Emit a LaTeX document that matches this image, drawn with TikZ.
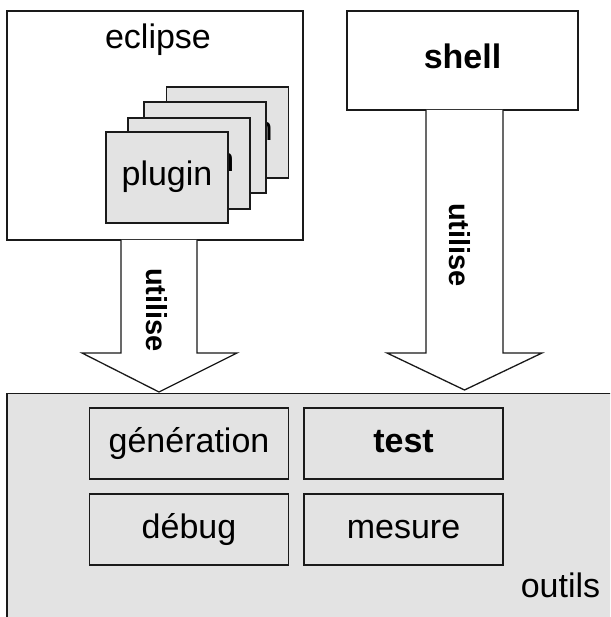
\documentclass[tikz,border=0pt]{standalone}
\usepackage{fontspec}
\setmainfont{Liberation Sans}
\definecolor{boxgray}{HTML}{E3E3E3}
\definecolor{linecol}{HTML}{1A1A1A}
\tikzset{
  bigtxt/.style={font=\fontsize{34}{40}\selectfont, inner sep=0pt},
  fixtext/.style={text height=24pt, text depth=7pt},
  whitebox/.style={draw=linecol, line width=1.8pt, fill=white, inner sep=0pt},
  card/.style={draw=linecol, line width=1.8pt, fill=boxgray, minimum width=122pt, minimum height=91pt, inner sep=0pt, fixtext, font=\fontsize{34}{40}\selectfont},
  toolbox/.style={draw=linecol, line width=1.8pt, fill=boxgray, minimum width=199pt, minimum height=71pt, inner sep=0pt, fixtext, font=\fontsize{34}{40}\selectfont},
  blockarrow/.style={draw=linecol, line width=1.3pt, fill=white, line join=miter},
  arrowtxt/.style={font=\bfseries\fontsize{29}{34}\selectfont, rotate=-90, inner sep=0pt}
}
\begin{document}
\begin{tikzpicture}[x=1pt,y=-1pt]
\useasboundingbox (0,0) rectangle (610,617);
\clip (0,0) rectangle (610,617);
\fill[white] (0,0) rectangle (610,617);

% outils container
\node[draw=linecol, line width=1.8pt, fill=boxgray, minimum width=620pt, minimum height=250pt, inner sep=0pt, anchor=north west] (outils) at (6,392.5) {};
\node[bigtxt, anchor=base] (outilslbl) at (560.5,597) {outils};

% inner tool boxes
\node[toolbox] (gen) at (189,443.5) {génération};
\node[toolbox, font=\bfseries\fontsize{34}{40}\selectfont] (test) at (403.5,443.5) {test};
\node[toolbox] (debug) at (189,529.5) {débug};
\node[toolbox] (mesure) at (403.5,529.5) {mesure};

% eclipse box
\node[whitebox, minimum width=296pt, minimum height=229pt] (eclipse) at (155,125.5) {};
\node[bigtxt, anchor=base] (eclipselbl) at (158,49) {eclipse};

% plugin cards (back to front)
\node[card] (p4) at (227.5,132.5) {plugin};
\node[card] (p3) at (205,147.5) {plugin};
\node[card] (p2) at (189,163.5) {plugin};
\node[card] (p1) at (167,177.5) {plugin};

% shell box
\node[whitebox, minimum width=231pt, minimum height=99pt, fixtext, font=\bfseries\fontsize{34}{40}\selectfont] (shell) at (462.5,60.5) {shell};

% block arrows
\coordinate (ltip) at (159,392);
\coordinate (rtip) at (464.5,390);
\path[blockarrow] (121,240) -- (121,353) -- (82,353) -- (ltip) -- (237,353) -- (197,353) -- (197,240);
\path[blockarrow] (426,110) -- (426,353) -- (387,353) -- (rtip) -- (542,353) -- (503,353) -- (503,110);
\node[arrowtxt] (u1) at (157,310) {utilise};
\node[arrowtxt] (u2) at (460,245) {utilise};
\end{tikzpicture}
\end{document}
